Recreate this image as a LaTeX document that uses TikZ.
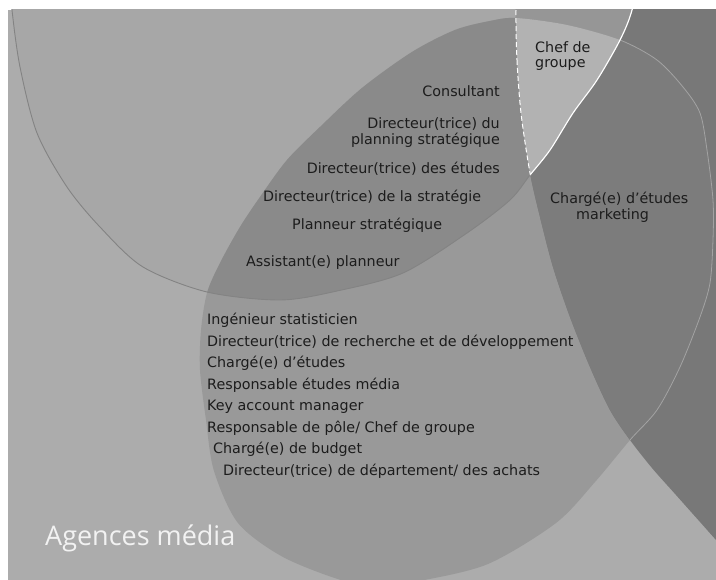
\documentclass[tikz,border=0pt]{standalone}
\usepackage{fontspec}
\setmainfont{DejaVu Sans}
\newfontfamily\titlefont{Open Sans}
\usepackage{tikz}

\definecolor{bggrey}{HTML}{ACACAC}
\definecolor{aonly}{HTML}{A7A7A7}
\definecolor{lensgrey}{HTML}{8A8A8A}
\definecolor{donly}{HTML}{999999}
\definecolor{chefgrey}{HTML}{B2B2B2}
\definecolor{acgrey}{HTML}{969696}
\definecolor{cdgrey}{HTML}{7C7C7C}
\definecolor{conly}{HTML}{787878}
\definecolor{ink}{HTML}{1C1C1C}
\definecolor{ringgrey}{HTML}{838383}

\tikzset{
  lbl/.style={inner sep=0pt, text=ink, font=\fontsize{14.3}{17}\selectfont},
  lblr/.style={lbl, anchor=base east},
  lbll/.style={lbl, anchor=base west},
  title/.style={inner sep=0pt, anchor=base west, text=white!95!black, font=\titlefont\fontsize{27}{30}\selectfont},
  ringline/.style={draw=ringgrey, line width=0.9pt},
  whiteline/.style={draw=white, line width=1.2pt},
  whitedash/.style={draw=white, line width=1pt, dash pattern=on 5pt off 3pt},
  faintline/.style={draw=donly!90!white, line width=0.8pt}
}

% the three rings, in pixel units (y downwards)
\newcommand{\topring}{plot[smooth cycle] coordinates {(12,10) (20,67) (37,133) (67,187) (100,227) (143,267) (207,292) (280,300) (337,291) (403,273) (467,233) (510,200) (530,175) (550,150) (573,113) (597,80) (620,40) (632,10) (642,-40) (625,-110) (500,-180) (320,-200) (150,-170) (45,-110) (9,-30)}}
\newcommand{\mediaring}{plot[smooth cycle] coordinates {(362,88) (412,52) (455,30) (490,21) (516,18) (567,25) (620,40) (657,60) (683,87) (700,113) (707,150) (713,200) (713,240) (710,283) (700,317) (680,367) (657,410) (630,440) (595,482) (556,523) (488,564) (419,581) (380,585) (344,581) (283,557) (238,523) (214,471) (206,420) (200,370) (201,330) (207,293) (220,263) (240,227) (260,197) (287,160) (320,127)}}
\newcommand{\rightring}{plot[smooth cycle] coordinates {(516,10) (517,60) (521,113) (530,173) (540,217) (553,267) (570,317) (590,367) (610,410) (630,440) (652,468) (676,495) (716,540) (760,590) (900,700) (1100,400) (1050,0) (800,-150) (600,-150) (518,-60)}}

\begin{document}
\begin{tikzpicture}[x=1pt,y=-1pt]
  \useasboundingbox (0,0) rectangle (716,580);
  \fill[white] (0,0) rectangle (716,580);
  \begin{scope}
    \clip (8,10) rectangle (716,580);
    \fill[bggrey] (8,10) rectangle (716,580);
    \fill[aonly] \topring;
    \fill[donly] \mediaring;
    \begin{scope}
      \clip \topring;
      \fill[lensgrey] \mediaring;
    \end{scope}
    \fill[conly] \rightring;
    \begin{scope}
      \clip \rightring;
      \fill[cdgrey] \mediaring;
      \begin{scope}[even odd rule]
        \clip (-100,-300) rectangle (1200,800) \topring;
        \draw[faintline] \mediaring;
      \end{scope}
      \clip \topring;
      \fill[acgrey] \topring;
      \fill[chefgrey] \mediaring;
    \end{scope}
    \draw[ringline] \topring;
    \begin{scope}
      \clip \rightring;
      \draw[whiteline] \topring;
    \end{scope}
    \begin{scope}
      \clip \topring;
      \draw[whitedash] \rightring;
    \end{scope}
  \end{scope}

  % overlap with the top ring
  \node[lblr] (cons) at (500,97) {Consultant};
  \node[lblr] (dirplanA) at (500,129) {Directeur(trice) du};
  \node[lblr] (dirplanB) at (500,145) {planning stratégique};
  \node[lblr] (diretud) at (500,174) {Directeur(trice) des études};
  \node[lbll] (dirstrat) at (263,202) {Directeur(trice) de la stratégie};
  \node[lbll] (plann) at (292,230) {Planneur stratégique};
  \node[lbll] (assist) at (246,267) {Assistant(e) planneur};

  % right ring
  \node[lbll] (chefA) at (535,53) {Chef de};
  \node[lbll] (chefB) at (535,68) {groupe};
  \node[lbll] (chmarkA) at (550,204) {Chargé(e) d'études};
  \node[lbll] (chmarkB) at (576,220) {marketing};

  % media ring only
  \node[lbll] (ingstat) at (207,325) {Ingénieur statisticien};
  \node[lbll] (dirrd) at (207,346.5) {Directeur(trice) de recherche et de développement};
  \node[lbll] (chetud) at (207,368) {Chargé(e) d'études};
  \node[lbll] (respmed) at (207,389.5) {Responsable études média};
  \node[lbll] (keyacc) at (207,411) {Key account manager};
  \node[lbll] (resppole) at (207,432.5) {Responsable de pôle/ Chef de groupe};
  \node[lbll] (chbudget) at (213,454) {Chargé(e) de budget};
  \node[lbll] (dirachat) at (223,475.5) {Directeur(trice) de département/ des achats};

  \node[title] (agmedia) at (45,545) {Agences média};
\end{tikzpicture}
\end{document}
